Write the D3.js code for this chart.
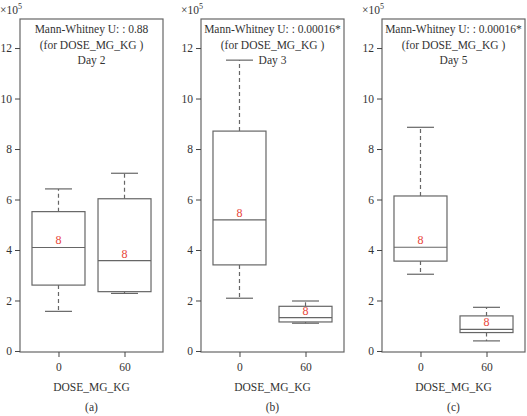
<!DOCTYPE html>
<html>
<head>
<meta charset="utf-8">
<script src="https://cdn.jsdelivr.net/npm/d3@7"></script>
<style>
  body { margin: 0; background: #fff; }
  svg text { font-family: "Liberation Serif", "DejaVu Serif", serif; fill: #333; }
</style>
</head>
<body>
<svg width="527" height="416"></svg>
<script>
// values are in units of 10^5
const panelLabels = ["(a)", "(b)", "(c)"];
const days = ["Day 2", "Day 3", "Day 5"];
const pValues = ["0.88", "0.00016*", "0.00016*"];
const doses = ["0", "60"];
const whiskerLow = [[1.57, 2.28], [2.09, 1.10], [3.04, 0.40]];
const q1 = [[2.61, 2.35], [3.41, 1.15], [3.56, 0.73]];
const median = [[4.10, 3.58], [5.19, 1.32], [4.11, 0.86]];
const q3 = [[5.52, 6.03], [8.71, 1.77], [6.14, 1.39]];
const whiskerHigh = [[6.42, 7.04], [11.52, 1.98], [8.86, 1.73]];
const counts = [[8, 8], [8, 8], [8, 8]];
const yTicks = [0, 2, 4, 6, 8, 10, 12];

const svg = d3.select("svg");
const lefts = [20, 201, 382];
const plotW = 143, plotTop = 19, plotBottom = 352;
const lineColor = "#666";
const serif = "Liberation Serif, DejaVu Serif, serif";

let y = d3.scaleLinear().domain([-0.04, 13.15]).range([plotBottom, plotTop]);

panelLabels.forEach(function(lab, p) {
    let g = svg.append("g").attr("transform", "translate(" + lefts[p] + ",0)");
    let x = d3.scalePoint().domain(doses).range([0, plotW]).padding(0.583);

    // frame
    g.append("rect")
        .attr("x", 0).attr("y", plotTop)
        .attr("width", plotW).attr("height", plotBottom - plotTop)
        .attr("fill", "none").attr("stroke", lineColor).attr("stroke-width", 1.2);

    // y axis
    let ya = g.append("g").call(d3.axisLeft(y).tickValues(yTicks).tickSize(5).tickPadding(3));
    ya.attr("font-family", serif).attr("font-size", 11.5);
    ya.select(".domain").remove();
    ya.selectAll("line").attr("stroke", "#444");
    ya.selectAll("text").attr("fill", "#333");

    // x axis
    let xa = g.append("g").attr("transform", "translate(0," + plotBottom + ")")
        .call(d3.axisBottom(x).tickSize(5).tickPadding(6));
    xa.attr("font-family", serif).attr("font-size", 11.5);
    xa.select(".domain").remove();
    xa.selectAll("line").attr("stroke", "#444");
    xa.selectAll("text").attr("fill", "#333");

    // x10^5
    let mult = g.append("text").attr("x", 2).attr("y", 14)
        .attr("text-anchor", "end").style("font-size", "11.5px");
    mult.append("tspan").text("×10");
    mult.append("tspan").attr("dy", -5).style("font-size", "8px").text("5");

    // title lines
    let titles = ["Mann-Whitney U: : " + pValues[p], "(for DOSE_MG_KG )", days[p]];
    titles.forEach(function(t, i) {
        g.append("text")
            .attr("x", plotW / 2).attr("y", 33 + i * 15.5)
            .attr("text-anchor", "middle").style("font-size", "11.5px")
            .text(t);
    });

    // boxes
    const boxW = 53, capW = 27;
    doses.forEach(function(d, j) {
        let cx = x(d);
        // whiskers
        g.append("line").attr("x1", cx).attr("x2", cx)
            .attr("y1", y(q3[p][j])).attr("y2", y(whiskerHigh[p][j]))
            .attr("stroke", lineColor).attr("stroke-dasharray", "4,3").attr("stroke-width", 1.2);
        g.append("line").attr("x1", cx).attr("x2", cx)
            .attr("y1", y(q1[p][j])).attr("y2", y(whiskerLow[p][j]))
            .attr("stroke", lineColor).attr("stroke-dasharray", "4,3").attr("stroke-width", 1.2);
        [whiskerHigh[p][j], whiskerLow[p][j]].forEach(function(v) {
            g.append("line").attr("x1", cx - capW / 2).attr("x2", cx + capW / 2)
                .attr("y1", y(v)).attr("y2", y(v))
                .attr("stroke", lineColor).attr("stroke-width", 1.2);
        });
        g.append("rect")
            .attr("x", cx - boxW / 2).attr("y", y(q3[p][j]))
            .attr("width", boxW).attr("height", y(q1[p][j]) - y(q3[p][j]))
            .attr("fill", "#fff").attr("stroke", lineColor).attr("stroke-width", 1.2);
        g.append("line").attr("x1", cx - boxW / 2).attr("x2", cx + boxW / 2)
            .attr("y1", y(median[p][j])).attr("y2", y(median[p][j]))
            .attr("stroke", lineColor).attr("stroke-width", 1.2);
        g.append("text")
            .attr("x", cx).attr("y", y(median[p][j]) - 3)
            .attr("text-anchor", "middle").style("font-size", "12px")
            .style("fill", "#e8453a")
            .text(counts[p][j]);
    });

    g.append("text").attr("x", plotW / 2).attr("y", 391)
        .attr("text-anchor", "middle").style("font-size", "11.5px").text("DOSE_MG_KG");
    g.append("text").attr("x", plotW / 2).attr("y", 411)
        .attr("text-anchor", "middle").style("font-size", "11.5px").text(lab);
});
</script>
</body>
</html>
